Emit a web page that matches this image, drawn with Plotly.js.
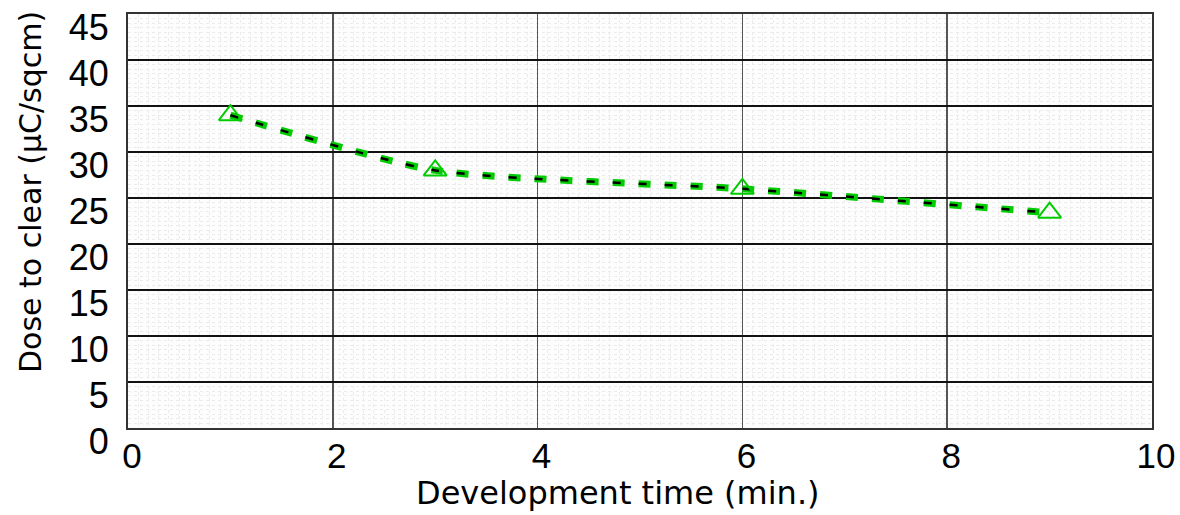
<!DOCTYPE html>
<html>
<head>
<meta charset="utf-8">
<script src="https://cdn.plot.ly/plotly-3.0.1.min.js"></script>
<style>html,body{margin:0;padding:0;background:#fff;}#chart{width:1180px;height:515px;}</style>
</head>
<body>
<div id="chart"></div>
<script>
const devTime = [1, 3, 6, 9];
const doseToClear = [34.0, 28.0, 26.0, 23.4];
const xTicks = [0, 2, 4, 6, 8, 10];
const yTicks = [0, 5, 10, 15, 20, 25, 30, 35, 40, 45];
const xTitle = "Development time (min.)";
const yTitle = "Dose to clear (µC/sqcm)";

const TITLE_FONT = "DejaVu Sans, Verdana, sans-serif";
const TICK_FONT = "Liberation Sans, Arial, sans-serif";
const green = "#00cc00";

const traces = [
  {x: devTime, y: doseToClear, type: "scatter", mode: "lines",
   line: {color: green, width: 7, dash: "12px,14px", shape: "spline", smoothing: 0.6},
   hoverinfo: "skip", showlegend: false},
  {x: devTime, y: doseToClear, type: "scatter", mode: "lines",
   line: {color: "#000", width: 2.5, dash: "8px,18px", shape: "spline", smoothing: 0.6},
   hoverinfo: "skip", showlegend: false},
  {x: devTime, y: doseToClear, type: "scatter", mode: "markers",
   marker: {symbol: "triangle-up-open", size: 20, color: green, line: {color: green, width: 2}},
   showlegend: false}
];

const layout = {
  width: 1180, height: 515,
  margin: {l: 128, r: 28, t: 14, b: 87},
  paper_bgcolor: "#fff", plot_bgcolor: "#fdfdfd",
  font: {family: TICK_FONT, size: 36, color: "#000"},
  showlegend: false,
  xaxis: {
    range: [0, 10], tickvals: xTicks, ticktext: xTicks.map(String),
    showgrid: true, gridcolor: "#555", gridwidth: 1.5,
    minor: {dtick: 0.1, showgrid: true, gridcolor: "#ebebeb", gridwidth: 1, griddash: "dot"},
    zeroline: false, showline: true, linecolor: "#333", linewidth: 2, mirror: true,
    ticks: "", ticklabelstandoff: -4, ticklabelshift: 4,
    tickfont: {family: TICK_FONT, size: 35, color: "#000"}
  },
  yaxis: {
    range: [0, 45], tickvals: yTicks, ticktext: yTicks.map(String),
    showgrid: true, gridcolor: "#111", gridwidth: 1.2,
    minor: {dtick: 0.5, showgrid: true, gridcolor: "#ebebeb", gridwidth: 1, griddash: "dot"},
    zeroline: false, showline: true, linecolor: "#333", linewidth: 2, mirror: true,
    ticks: "", ticklabelstandoff: 10, ticklabelshift: 13,
    tickfont: {family: TICK_FONT, size: 36, color: "#000"}
  },
  annotations: [
    {text: xTitle, xref: "paper", yref: "paper", x: 0.479, y: -0.157,
     xanchor: "center", yanchor: "middle", showarrow: false,
     font: {family: TITLE_FONT, size: 32, color: "#000"}},
    {text: yTitle, xref: "paper", yref: "paper", x: -0.0957, y: 0.57, textangle: -90,
     xanchor: "center", yanchor: "middle", showarrow: false,
     font: {family: TITLE_FONT, size: 30, color: "#000"}}
  ]
};

Plotly.newPlot("chart", traces, layout, {displayModeBar: false, staticPlot: true});
</script>
</body>
</html>
